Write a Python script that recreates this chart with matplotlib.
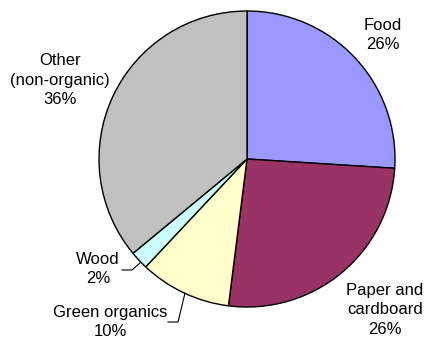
import matplotlib.pyplot as plt

LABELS = ["Food", "Paper and\ncardboard", "Green organics", "Wood", "Other\n(non-organic)"]
SHARES = [26, 26, 10, 2, 36]
COLORS = ["#9999FF", "#993366", "#FFFFCC", "#CCFFFF", "#C0C0C0"]

W, H = 428, 338

plt.rcParams["font.family"] = ["Liberation Sans", "DejaVu Sans"]
fig = plt.figure(figsize=(W / 100, H / 100), dpi=100)
ax = fig.add_axes([0, 0, 1, 1])

# pie in screen coordinates (y down), so run angles the other way round
ax.pie(SHARES, colors=COLORS, startangle=-90, counterclock=True,
       center=(247, 159), radius=148,
       wedgeprops=dict(edgecolor="black", linewidth=1.0))
ax.set_xlim(0, W)
ax.set_ylim(H, 0)
ax.set_aspect("equal")
ax.axis("off")

pos = [(383, 35), (385, 310), (110, 322), (98, 269), (60, 80)]
for (x, y), lab, v in zip(pos, LABELS, SHARES):
    ax.text(x, y, f"{lab}\n{v}%", ha="center", va="center", fontsize=12,
            linespacing=1.4)

# leader lines
ax.plot([140, 132, 122], [263, 270, 270], color="black", lw=0.8)
ax.plot([185, 178, 168], [293, 322, 322], color="black", lw=0.8)

fig.savefig("out.png", dpi=100)
